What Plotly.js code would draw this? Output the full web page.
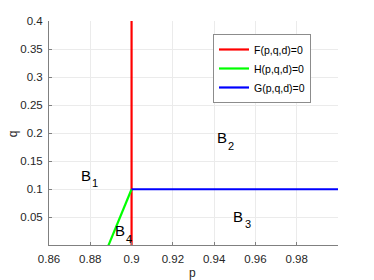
<!DOCTYPE html>
<html><head><meta charset="utf-8">
<script src="https://cdn.plot.ly/plotly-3.0.1.min.js"></script>
<style>html,body{margin:0;padding:0;background:#fff}#c{width:374px;height:280px}</style>
</head><body><div id="c"></div>
<script>
var seriesNames = ['F(p,q,d)=0', 'H(p,q,d)=0', 'G(p,q,d)=0'];
var fP = [0.9, 0.9];      var fQ = [0, 0.4];
var hP = [0.8888, 0.9];   var hQ = [0, 0.1];
var gP = [0.9, 1.0];      var gQ = [0.1, 0.1];
var regionLetters = ['B', 'B', 'B', 'B'];
var regionSubs = ['1', '2', '3', '4'];
var letterP = [0.8781, 0.9439, 0.9517, 0.8944];
var letterQ = [0.125, 0.1914, 0.0515, 0.0257];
var subP = [0.8824, 0.948, 0.9565, 0.8988];
var subQ = [0.1103, 0.1763, 0.0373, 0.0114];
var xTicks = [0.86, 0.88, 0.9, 0.92, 0.94, 0.96, 0.98];
var xTickText = ['0.86', '0.88', '0.9', '0.92', '0.94', '0.96', '0.98'];
var yTicks = [0.05, 0.1, 0.15, 0.2, 0.25, 0.3, 0.35, 0.4];
var yTickText = ['0.05', '0.1', '0.15', '0.2', '0.25', '0.3', '0.35', '0.4'];
var xTitle = 'p';
var yTitle = 'q';

var colors = ['#ff0000', '#00ff00', '#0000ff'];
var pts = [[fP, fQ], [hP, hQ], [gP, gQ]];
var traces = pts.map(function (d, i) {
  return {x: d[0], y: d[1], mode: 'lines', name: seriesNames[i],
    line: {color: colors[i], width: 2.2}, cliponaxis: true};
});
var FONT = 'Liberation Sans, Arial, sans-serif';
var ann = [];
for (var i = 0; i < regionLetters.length; i++) {
  ann.push({x: letterP[i], y: letterQ[i], text: regionLetters[i], showarrow: false,
    font: {family: FONT, size: 15, color: '#000'}});
  ann.push({x: subP[i], y: subQ[i], text: regionSubs[i], showarrow: false,
    font: {family: FONT, size: 11, color: '#000'}});
}
ann.push({xref: 'paper', yref: 'paper', x: 0.4957, y: -0.125, xanchor: 'center', yanchor: 'middle',
  text: xTitle, showarrow: false, font: {family: FONT, size: 12, color: '#262626'}});
ann.push({xref: 'paper', yref: 'paper', x: -0.124, y: 0.4955, xanchor: 'center', yanchor: 'middle',
  textangle: -90, text: yTitle, showarrow: false, font: {family: FONT, size: 12, color: '#262626'}});
var axisCommon = {showgrid: true, gridcolor: '#ebebeb', gridwidth: 1, zeroline: false,
  showline: true, linecolor: '#808080', linewidth: 1, ticks: 'inside', ticklen: 3,
  tickcolor: '#808080', ticklabelstandoff: 3,
  tickfont: {family: FONT, size: 11.5, color: '#262626'}, mirror: false};
var layout = {
  width: 374, height: 280,
  margin: {l: 49, r: 35.5, t: 21, b: 35},
  paper_bgcolor: '#fff', plot_bgcolor: '#fff',
  showlegend: true,
  legend: {x: 0.5675, y: 0.942, xanchor: 'left', yanchor: 'top',
    bgcolor: '#fff', bordercolor: '#8c8c8c', borderwidth: 1,
    font: {family: FONT, size: 10.5, color: '#000'},
    tracegroupgap: 0, itemwidth: 30},
  xaxis: Object.assign({}, axisCommon, {range: [0.86, 1.0], tickvals: xTicks, ticktext: xTickText}),
  yaxis: Object.assign({}, axisCommon, {range: [0.0006, 0.4], tickvals: yTicks, ticktext: yTickText}),
  annotations: ann
};
Plotly.newPlot('c', traces, layout, {displayModeBar: false, staticPlot: true});
</script></body></html>
